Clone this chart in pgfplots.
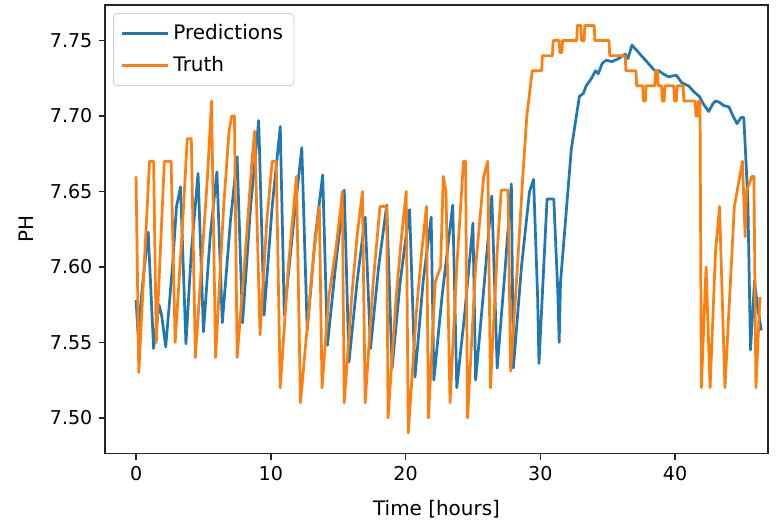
\documentclass[border=0pt]{standalone}
\usepackage{fontspec}
\setmainfont{DejaVu Sans}
\usepackage{pgfplots}
\usepackage{pgfplotstable}
\pgfplotsset{compat=1.18}

\definecolor{mplblue}{HTML}{1F77B4}
\definecolor{mplorange}{HTML}{FF7F0E}

% Truth
\pgfplotstableread{
t ph
0.0 7.660
0.2 7.530
0.6 7.600
1.0 7.670
1.3 7.670
1.5 7.550
1.9 7.630
2.1 7.670
2.6 7.670
2.9 7.550
3.4 7.620
3.8 7.685
4.1 7.685
4.4 7.540
5.0 7.620
5.3 7.660
5.6 7.710
5.9 7.540
6.5 7.640
6.9 7.690
7.1 7.700
7.3 7.700
7.5 7.540
8.2 7.620
8.6 7.670
8.8 7.690
9.2 7.555
9.7 7.630
10.1 7.670
10.4 7.670
10.7 7.520
11.3 7.600
11.9 7.660
12.2 7.510
12.9 7.580
13.2 7.610
13.6 7.640
13.8 7.520
14.3 7.580
14.8 7.610
15.2 7.640
15.3 7.650
15.45 7.510
16.0 7.580
16.4 7.620
16.8 7.650
17.0 7.510
17.6 7.590
18.1 7.640
18.6 7.640
18.7 7.500
19.3 7.580
19.7 7.620
20.05 7.650
20.2 7.490
20.8 7.570
21.2 7.610
21.55 7.640
21.7 7.500
22.2 7.590
22.6 7.600
22.8 7.660
23.0 7.650
23.3 7.510
23.8 7.600
24.3 7.670
24.45 7.670
24.6 7.500
25.2 7.600
25.6 7.640
25.8 7.660
26.1 7.670
26.3 7.520
26.8 7.610
27.1 7.651
27.6 7.651
27.8 7.531
28.3 7.600
28.7 7.660
29.0 7.700
29.4 7.730
30.1 7.730
30.15 7.740
30.9 7.740
30.95 7.750
31.4 7.750
31.45 7.742
31.6 7.742
31.65 7.750
32.7 7.750
32.75 7.760
33.0 7.760
33.05 7.750
33.25 7.750
33.3 7.760
34.0 7.760
34.05 7.750
35.1 7.750
35.15 7.740
36.3 7.740
36.35 7.730
37.1 7.730
37.15 7.720
37.6 7.720
37.65 7.710
37.8 7.710
37.85 7.720
38.5 7.720
38.55 7.730
38.7 7.730
38.75 7.720
39.0 7.720
39.05 7.710
39.2 7.710
39.25 7.720
39.9 7.720
39.95 7.710
40.1 7.710
40.15 7.720
40.6 7.720
40.65 7.710
41.5 7.710
41.55 7.700
41.7 7.700
41.75 7.710
41.85 7.710
41.95 7.520
42.3 7.600
42.6 7.520
43.0 7.610
43.3 7.640
43.7 7.520
44.4 7.640
44.6 7.650
45.0 7.670
45.2 7.620
45.3 7.650
45.7 7.660
45.85 7.660
46.0 7.520
46.3 7.580
}\truth

% Predictions
\pgfplotstableread{
t ph
0.0 7.578
0.15 7.555
0.5 7.590
0.9 7.623
1.3 7.546
1.7 7.575
1.9 7.568
2.2 7.547
2.7 7.600
3.0 7.640
3.3 7.653
3.7 7.549
4.1 7.610
4.6 7.662
5.0 7.557
5.5 7.620
6.0 7.663
6.4 7.563
7.0 7.630
7.5 7.673
7.9 7.563
8.5 7.640
9.1 7.697
9.5 7.568
10.1 7.640
10.7 7.693
11.0 7.568
11.7 7.630
12.3 7.679
12.7 7.558
13.3 7.620
13.85 7.661
14.2 7.548
14.8 7.600
15.45 7.651
15.8 7.537
16.4 7.590
17.0 7.633
17.4 7.546
18.0 7.600
18.6 7.641
19.0 7.533
19.6 7.590
20.3 7.638
20.7 7.527
21.3 7.590
21.9 7.633
22.1 7.525
22.7 7.580
23.5 7.641
23.8 7.520
24.4 7.570
25.0 7.629
25.2 7.525
25.8 7.585
26.4 7.647
26.8 7.533
27.4 7.600
27.85 7.655
28.0 7.533
28.6 7.600
29.2 7.650
29.5 7.658
29.8 7.580
29.9 7.536
30.5 7.645
31.0 7.645
31.3 7.583
31.4 7.550
31.5 7.590
32.3 7.678
32.9 7.713
33.2 7.715
33.4 7.720
33.8 7.725
34.1 7.730
34.3 7.728
34.6 7.735
34.9 7.737
35.3 7.736
35.8 7.738
36.3 7.741
36.5 7.738
36.8 7.747
37.2 7.743
37.5 7.740
37.8 7.737
38.2 7.733
38.5 7.730
38.8 7.730
39.1 7.728
39.5 7.726
40.1 7.727
40.5 7.722
41.0 7.720
41.4 7.716
41.8 7.713
42.1 7.708
42.5 7.703
42.8 7.708
43.0 7.710
43.3 7.709
43.6 7.707
44.0 7.706
44.3 7.700
44.6 7.695
44.9 7.699
45.1 7.699
45.4 7.645
45.6 7.545
45.9 7.591
46.1 7.575
46.4 7.558
}\pred

\begin{document}
\begin{tikzpicture}
\begin{axis}[
    scale only axis,
    width=365.3pt, height=247pt,
    xmin=-2.3, xmax=46.9,
    ymin=7.4765, ymax=7.7735,
    xtick={0,10,20,30,40},
    ytick={7.50,7.55,7.60,7.65,7.70,7.75},
    yticklabel style={/pgf/number format/.cd, fixed, fixed zerofill, precision=2},
    /pgf/number format/assume math mode=true,
    tick label style={font=\fontsize{10.5}{12}\selectfont},
    label style={font=\fontsize{11}{13}\selectfont},
    tick align=outside,
    major tick length=3.5pt,
    tick style={black!85, line width=0.8pt},
    axis line style={black!85, line width=0.8pt},
    xtick pos=bottom, ytick pos=left,
    xlabel={Time [hours]},
    ylabel={PH},
    xlabel style={yshift=-4pt},
    ylabel style={yshift=2pt},
    legend cell align=left,
    legend image code/.code={\draw[#1] (0cm,0cm) -- (0.9cm,0cm);},
    legend style={at={(0.012,0.982)}, anchor=north west, draw=black!20,
        rounded corners=2pt, fill=white, fill opacity=0.8, text opacity=1,
        font=\fontsize{11}{13}\selectfont, inner xsep=4pt, inner ysep=4pt,
        row sep=4pt, /tikz/every even column/.append style={column sep=2pt}},
]
\addplot[mplblue, line width=1.5pt, line join=round] table[x=t, y=ph] {\pred};
\addlegendentry{Predictions}
\addplot[mplorange, line width=1.5pt, line join=round] table[x=t, y=ph] {\truth};
\addlegendentry{Truth}
\end{axis}
\path ([shift={(-57.9pt,-38.4pt)}]current axis.south west) rectangle ([shift={(8.8pt,2.8pt)}]current axis.north east);
\end{tikzpicture}
\end{document}
